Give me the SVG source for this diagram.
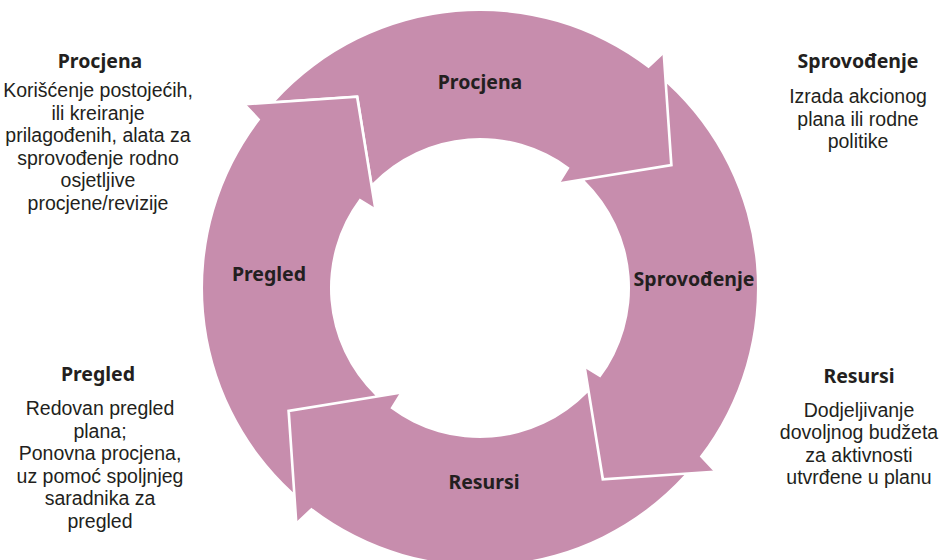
<svg xmlns="http://www.w3.org/2000/svg" xmlns:xlink="http://www.w3.org/1999/xlink" width="945" height="560" viewBox="0 0 945 560">
  <style>
    .arrow { fill: #C78DAD; }
    .edge { fill: none; stroke: #FFFFFF; stroke-width: 2.6; stroke-linejoin: round; stroke-linecap: round; }
    .lbl { font-family: "Noto Sans", "Liberation Sans", sans-serif; font-weight: bold; font-size: 19.5px; fill: #231F20; text-anchor: middle; }
    .head { font-family: "Noto Sans", "Liberation Sans", sans-serif; font-weight: bold; font-size: 19.5px; fill: #231F20; text-anchor: middle; }
    .body { font-family: "Liberation Sans", Arial, sans-serif; font-size: 19.5px; fill: #231F20; text-anchor: middle; }
  </style>
  <defs>
    <g id="arrowShape">
      <path class="arrow" d="M 275.7 100.9 L 358.3 95.2 L 372.5 183.35 A 150 150 0 0 1 569.6 167.7 L 560 183.2 L 671.3 165.1 L 663.8 54 L 648.6 68.3 A 277 277 0 0 0 275.7 100.9 Z"/>
      <polyline class="edge" points="663.8,54 671.3,165.1 560,183.2"/>
    </g>
  </defs>
  <rect width="945" height="560" fill="#FFFFFF"/>

  <g id="procjena">
    <use href="#arrowShape" xlink:href="#arrowShape"/>
    <text class="lbl" x="480" y="89">Procjena</text>
    <text class="head" x="100" y="68">Procjena</text>
    <text class="body" x="98" y="97">Korišćenje postojećih,</text>
    <text class="body" x="98" y="119.5">ili kreiranje</text>
    <text class="body" x="98" y="142">prilagođenih, alata za</text>
    <text class="body" x="98" y="164.5">sprovođenje rodno</text>
    <text class="body" x="98" y="187">osjetljive</text>
    <text class="body" x="98" y="209.5">procjene/revizije</text>
  </g>

  <g id="sprovodjenje">
    <use href="#arrowShape" xlink:href="#arrowShape" transform="rotate(90 480 288)"/>
    <text class="lbl" x="694" y="286">Sprovođenje</text>
    <text class="head" x="858" y="68">Sprovođenje</text>
    <text class="body" x="858" y="103">Izrada akcionog</text>
    <text class="body" x="858" y="125.5">plana ili rodne</text>
    <text class="body" x="858" y="148">politike</text>
  </g>

  <g id="resursi">
    <use href="#arrowShape" xlink:href="#arrowShape" transform="rotate(180 480 288)"/>
    <text class="lbl" x="484" y="489">Resursi</text>
    <text class="head" x="859" y="383">Resursi</text>
    <text class="body" x="859" y="416.5">Dodjeljivanje</text>
    <text class="body" x="859" y="439">dovoljnog budžeta</text>
    <text class="body" x="859" y="461.5">za aktivnosti</text>
    <text class="body" x="859" y="484">utvrđene u planu</text>
  </g>

  <g id="pregled">
    <use href="#arrowShape" xlink:href="#arrowShape" transform="rotate(270 480 288)"/>
    <text class="lbl" x="269" y="281">Pregled</text>
    <text class="head" x="98" y="381">Pregled</text>
    <text class="body" x="100" y="415">Redovan pregled</text>
    <text class="body" x="100" y="437.5">plana;</text>
    <text class="body" x="100" y="460">Ponovna procjena,</text>
    <text class="body" x="100" y="482.5">uz pomoć spoljnjeg</text>
    <text class="body" x="100" y="505">saradnika za</text>
    <text class="body" x="100" y="527.5">pregled</text>
  </g>

  <g id="connectors"></g>
</svg>
